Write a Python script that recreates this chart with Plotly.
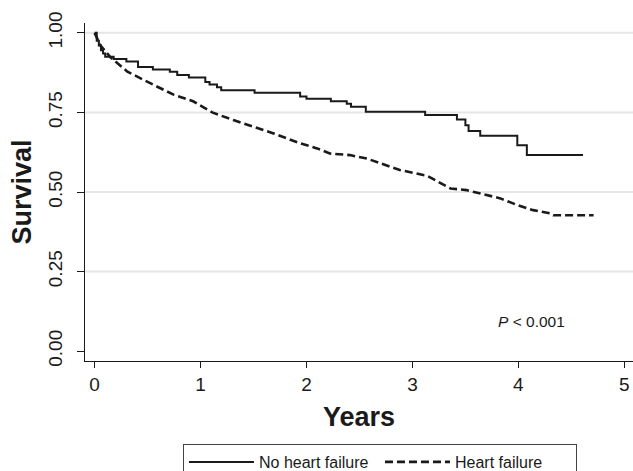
import plotly.graph_objects as go

# No heart failure (Kaplan-Meier steps)
nohf_t = [0, 0.02, 0.04, 0.06, 0.08, 0.10, 0.18, 0.30, 0.41, 0.55, 0.71, 0.78, 0.89,
          1.045, 1.085, 1.155, 1.195, 1.51, 1.94, 2.0, 2.23, 2.38, 2.42, 2.56, 3.12,
          3.42, 3.50, 3.53, 3.64, 3.99, 4.08, 4.61]
nohf_s = [1.0, 0.975, 0.96, 0.945, 0.935, 0.925, 0.918, 0.910, 0.893, 0.885, 0.878, 0.868, 0.860,
          0.846, 0.838, 0.829, 0.820, 0.812, 0.800, 0.793, 0.785, 0.777, 0.768, 0.752, 0.742,
          0.728, 0.710, 0.692, 0.677, 0.647, 0.616, 0.616]

# Heart failure
hf_t = [0, 0.054, 0.15, 0.31, 0.56, 0.745, 0.93, 1.11, 1.31, 1.50, 1.69, 1.94, 2.10,
        2.22, 2.41, 2.57, 2.88, 3.14, 3.36, 3.51, 3.83, 3.99, 4.14, 4.30, 4.33, 4.71]
hf_s = [1.0, 0.961, 0.923, 0.878, 0.836, 0.806, 0.785, 0.750, 0.726, 0.705, 0.684, 0.653, 0.637,
        0.621, 0.616, 0.605, 0.569, 0.551, 0.511, 0.506, 0.480, 0.459, 0.443, 0.433, 0.427, 0.427]

y_ticks = [0, 0.25, 0.5, 0.75, 1.0]
y_ticktext = ["0.00", "0.25", "0.50", "0.75", "1.00"]
grid_vals = [0.25, 0.5, 0.75, 1.0]
x_ticks = [0, 1, 2, 3, 4, 5]

FONT = "Liberation Sans, Arial, Helvetica, sans-serif"
INK = "#1a1a1a"

fig = go.Figure()
fig.add_trace(go.Scatter(x=nohf_t, y=nohf_s, mode="lines", name="No heart failure",
                         line=dict(color=INK, width=2, shape="hv")))
fig.add_trace(go.Scatter(x=hf_t, y=hf_s, mode="lines", name="Heart failure",
                         line=dict(color=INK, width=2.6, dash="8px,4px")))

for g in grid_vals:
    fig.add_shape(type="line", xref="paper", x0=0, x1=1, yref="y", y0=g, y1=g,
                  line=dict(color="#e6e6e6", width=2), layer="below")

fig.add_annotation(x=4.12, y=0.092, xref="x", yref="y", text="<i>P</i> < 0.001",
                   showarrow=False, font=dict(family=FONT, size=15.5, color=INK))

fig.update_layout(
    width=633, height=471,
    margin=dict(l=85, r=0, t=23, b=110, autoexpand=False),
    paper_bgcolor="white", plot_bgcolor="white",
    font=dict(family=FONT, color=INK),
    showlegend=True,
    legend=dict(orientation="h", x=0.1788, xanchor="left", y=-0.2456, yanchor="top",
                bordercolor="#444", borderwidth=1, bgcolor="white",
                font=dict(family=FONT, size=16, color=INK), itemwidth=65,
                entrywidth=116),
    xaxis=dict(range=[-0.0906, 5.082], tickvals=x_ticks, showgrid=False, zeroline=False,
               automargin=False,
               showline=True, linecolor=INK, linewidth=1.3, ticks="outside", ticklen=6,
               tickcolor=INK, tickwidth=1.3, tickfont=dict(family=FONT, size=19, color=INK),
               title=dict(text="<b>Years</b>", font=dict(family=FONT, size=27, color=INK),
                          standoff=13)),
    yaxis=dict(range=[-0.031, 1.031], tickvals=y_ticks, ticktext=y_ticktext, showgrid=False,
               automargin=False,
               zeroline=False, showline=True, linecolor=INK, linewidth=1.3, ticks="outside",
               ticklen=7, tickcolor=INK, tickwidth=1.3, tickangle=-90,
               ticklabelstandoff=7,
               tickfont=dict(family=FONT, size=19, color=INK),
               title=dict(text="<b>Survival</b>", font=dict(family=FONT, size=27, color=INK),
                          standoff=5)),
)

fig.write_html("out.html", config={"displayModeBar": False},
               post_script="document.body.style.margin='0px';document.body.style.overflow='hidden';")
